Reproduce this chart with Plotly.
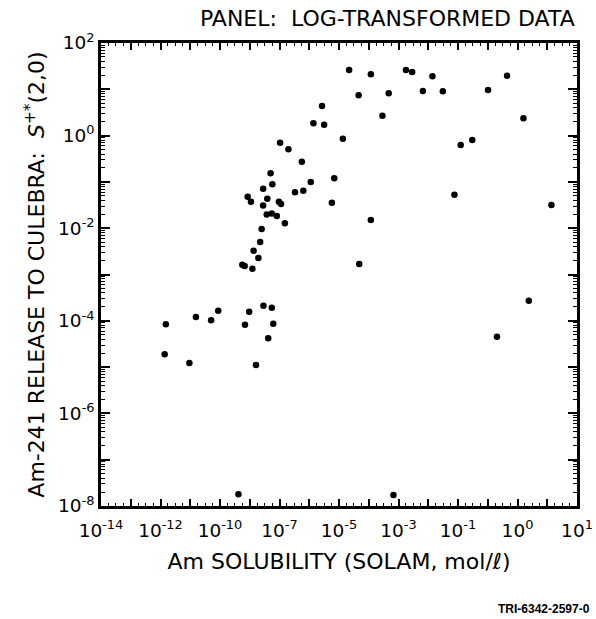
import plotly.graph_objects as go

# ---- data (x = position along the printed solubility axis, one unit per major tick) ----
x_tick_labels = ["10<sup>-14</sup>", "10<sup>-12</sup>", "10<sup>-10</sup>", "10<sup>-7</sup>",
                 "10<sup>-5</sup>", "10<sup>-3</sup>", "10<sup>-1</sup>", "10<sup>0</sup>", "10<sup>1</sup>"]
y_tick_labels = ["10<sup>-8</sup>", "10<sup>-6</sup>", "10<sup>-4</sup>", "10<sup>-2</sup>",
                 "10<sup>0</sup>", "10<sup>2</sup>"]
y_decades = [1e-8, 1e-7, 1e-6, 1e-5, 1e-4, 1e-3, 1e-2, 1e-1, 1e0, 1e1, 1e2]

solubility_pos = [7.14, 6.02, 6.30, 6.75, 7.05, 6.80, 6.52, 5.70, 5.76, 5.45,
                  5.59, 4.93, 5.04, 5.45, 5.98, 6.05, 5.57, 5.74, 5.91, 6.18,
                  5.40, 5.35, 5.13, 5.29, 4.75, 4.83, 5.09, 5.46, 5.74, 4.98,
                  3.94, 3.19, 3.70, 4.84, 5.79, 2.18, 5.62, 2.14, 2.97, 5.21,
                  8.34, 9.07, 10.25, 10.46, 11.14, 13.65, 8.66, 9.67, 10.82, 11.49,
                  13.01, 7.43, 7.50, 9.46, 8.13, 14.20, 12.09, 12.48, 7.84, 7.76,
                  11.88, 15.14, 9.07, 8.68, 14.38, 13.31, 4.62, 9.83]
release = [1.85, 0.703, 0.506, 0.273, 0.0995, 0.0646, 0.0596, 0.153, 0.0887, 0.0713,
           0.0434, 0.0479, 0.0373, 0.0309, 0.0373, 0.0333, 0.0198, 0.0207, 0.0183, 0.0128,
           0.00962, 0.00504, 0.00327, 0.00227, 0.00163, 0.00153, 0.00133, 2.12e-4, 1.92e-4, 1.57e-4,
           1.65e-4, 1.21e-4, 1.03e-4, 8.24e-5, 8.65e-5, 8.39e-5, 4.19e-5, 1.89e-5, 1.23e-5, 1.11e-5,
           26.1, 21.1, 26.1, 23.7, 19.1, 19.7, 7.41, 8.20, 9.18, 9.06,
           9.66, 4.36, 1.72, 2.69, 0.857, 2.37, 0.627, 0.804, 0.120, 0.0356,
           0.0530, 0.0317, 0.0150, 0.00169, 2.72e-4, 4.54e-5, 1.79e-8, 1.73e-8]

FONT = "DejaVu Sans"

# major x ticks every unit, labels every second tick
x_major = list(range(0, 17))
x_text = []
for i in x_major:
    x_text.append(x_tick_labels[i // 2] if i % 2 == 0 else "")

y_text = []
for k, v in enumerate(y_decades):
    y_text.append(y_tick_labels[k // 2] if k % 2 == 0 else "")

y_minor = [m * d for d in y_decades[:-1] for m in range(2, 10)]

fig = go.Figure()
fig.add_trace(go.Scatter(
    x=solubility_pos, y=release, mode="markers",
    marker=dict(color="black", size=6.5, line=dict(width=0)),
    showlegend=False, hoverinfo="skip"))

fig.update_layout(
    width=596, height=619,
    margin=dict(l=101, r=19, t=43, b=113),
    paper_bgcolor="white", plot_bgcolor="white",
    font=dict(family=FONT, color="black"),
    xaxis=dict(
        range=[0, 16], automargin=False, showgrid=False, zeroline=False,
        showline=True, linecolor="black", linewidth=2.5, mirror="ticks",
        tickmode="array", tickvals=x_major, ticktext=x_text,
        ticks="inside", ticklen=7, tickwidth=1.5, tickcolor="black",
        tickfont=dict(family=FONT, size=18.5, color="black"),
        ticklabelstandoff=6, ticklabeloverflow="allow",
        minor=dict(dtick=0.25, ticks="inside", ticklen=3, tickwidth=1.2, tickcolor="black", showgrid=False),
        title=dict(text="Am SOLUBILITY (SOLAM, mol/\u2113)", standoff=14,
                   font=dict(family=FONT, size=22, color="black")),
    ),
    yaxis=dict(
        type="log", range=[-8, 2], automargin=False, showgrid=False, zeroline=False,
        showline=True, linecolor="black", linewidth=2.5, mirror="ticks",
        tickmode="array", tickvals=y_decades, ticktext=y_text,
        ticks="inside", ticklen=9, tickwidth=1.5, tickcolor="black",
        tickfont=dict(family=FONT, size=18.5, color="black"),
        ticklabeloverflow="allow",
        minor=dict(tickmode="array", tickvals=y_minor, ticks="inside", ticklen=4,
                   tickwidth=1.2, tickcolor="black", showgrid=False),
        title=dict(text="Am-241 RELEASE TO CULEBRA:  <i>S</i><sup>+*</sup>(2,0)", standoff=8,
                   font=dict(family=FONT, size=22, color="black")),
    ),
    annotations=[
        dict(text="PANEL:  LOG-TRANSFORMED DATA", xref="paper", yref="paper",
             x=1.0, y=1.052, xanchor="right", yanchor="middle", showarrow=False,
             font=dict(family=FONT, size=22, color="black")),
        dict(text="<b>TRI-6342-2597-0</b>", xref="paper", yref="paper",
             x=1.0315, y=-0.2225, xanchor="right", yanchor="middle", showarrow=False,
             font=dict(family="Liberation Sans", size=12, color="black")),
    ],
)

# remove the browser's default page margin so the figure fills the window exactly
fig.write_html("out.html",
               config={"displayModeBar": False},
               post_script="document.body.style.margin='0';document.body.style.overflow='hidden';")
